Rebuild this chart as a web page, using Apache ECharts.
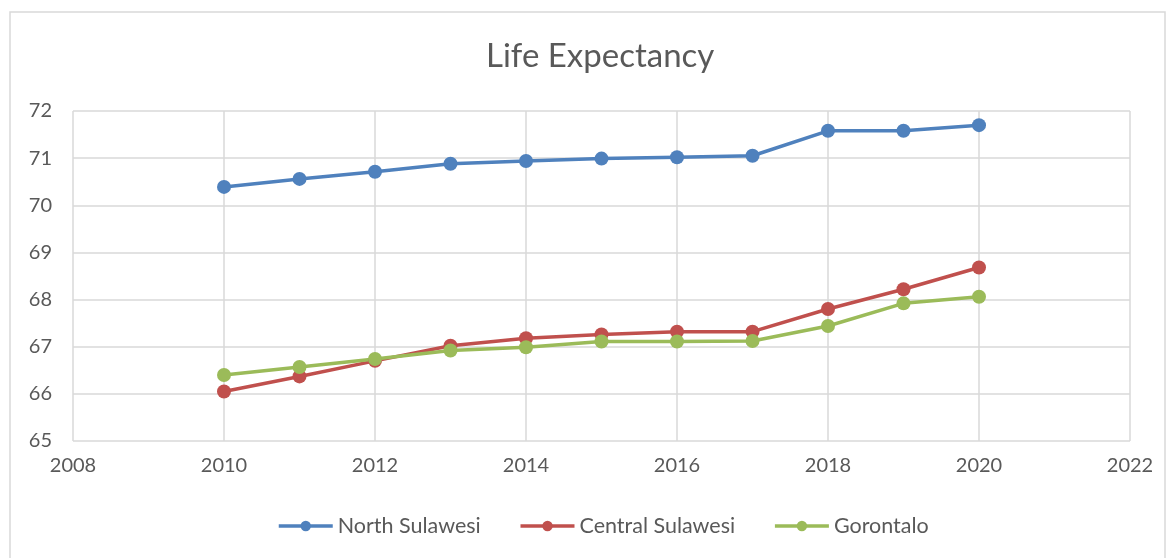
<!DOCTYPE html>
<html>
<head>
<meta charset="utf-8">
<script src="https://cdn.jsdelivr.net/npm/echarts@6/dist/echarts.min.js"></script>
<style>
  html, body { margin: 0; padding: 0; background: #fff; }
  #chart { width: 1171px; height: 558px; }
</style>
</head>
<body>
<div id="chart"></div>
<script>
// data
const years = [2010, 2011, 2012, 2013, 2014, 2015, 2016, 2017, 2018, 2019, 2020];
const northSulawesi = [70.39, 70.56, 70.71, 70.88, 70.94, 70.99, 71.02, 71.05, 71.58, 71.58, 71.70];
const centralSulawesi = [66.05, 66.37, 66.70, 67.02, 67.18, 67.26, 67.32, 67.32, 67.80, 68.22, 68.68];
const gorontalo = [66.40, 66.57, 66.74, 66.92, 66.99, 67.11, 67.11, 67.12, 67.44, 67.92, 68.06];

const pairs = (ys) => years.map((x, i) => [x, ys[i]]);
const font = "Lato, 'Liberation Sans', sans-serif";

const chart = echarts.init(document.getElementById("chart"));
const mkSeries = (name, color, ys) => ({
  name: name,
  type: "line",
  data: pairs(ys),
  symbol: "circle",
  symbolSize: 14,
  itemStyle: { color: color },
  lineStyle: { color: color, width: 3.5 },
  emphasis: { disabled: true },
});

chart.setOption({
  animation: false,
  textStyle: { fontFamily: font },
  graphic: [
    {
      type: "rect",
      shape: { x: 10, y: 12, width: 1155, height: 560 },
      style: { fill: "none", stroke: "#d9d9d9", lineWidth: 1.5 },
      silent: true,
    },
  ],
  title: {
    text: "Life Expectancy",
    left: 481,
    top: 35,
    textStyle: { fontFamily: font, fontSize: 33, fontWeight: "normal", color: "#595959" },
  },
  legend: {
    bottom: 16,
    left: 272,
    itemWidth: 54,
    itemHeight: 13,
    itemGap: 38,
    lineStyle: { width: 3.5 },
    textStyle: { fontFamily: font, fontSize: 21.5, color: "#595959" },
    data: ["North Sulawesi", "Central Sulawesi", "Gorontalo"],
  },
  grid: { left: 73, right: 41, top: 111, bottom: 117 },
  xAxis: {
    type: "value",
    min: 2008,
    max: 2022,
    interval: 2,
    axisLine: { show: false },
    axisTick: { show: false },
    splitLine: { show: true, lineStyle: { color: "#d9d9d9", width: 1.5 } },
    axisLabel: { fontSize: 20, color: "#595959", margin: 15, fontFamily: font, formatter: (v) => String(v) },
  },
  yAxis: {
    type: "value",
    min: 65,
    max: 72,
    interval: 1,
    axisLine: { show: false },
    axisTick: { show: false },
    splitLine: { show: true, lineStyle: { color: "#d9d9d9", width: 1.5 } },
    axisLabel: { fontSize: 20, color: "#595959", margin: 21, fontFamily: font },
  },
  series: [
    mkSeries("North Sulawesi", "#4f81bd", northSulawesi),
    mkSeries("Central Sulawesi", "#c0504d", centralSulawesi),
    mkSeries("Gorontalo", "#9bbb59", gorontalo),
  ],
});
</script>
</body>
</html>
